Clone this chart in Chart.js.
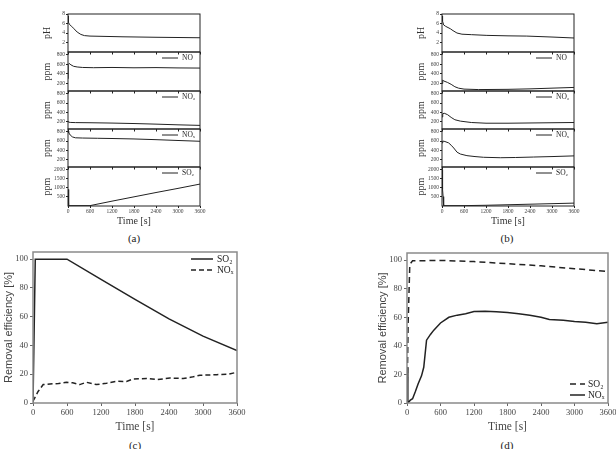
<!DOCTYPE html>
<html>
<head>
<meta charset="utf-8">
<script src="https://cdn.jsdelivr.net/npm/chart.js@4.4.0/dist/chart.umd.min.js"></script>
<style>
  body { margin: 0; background: #fff; width: 616px; height: 449px; position: relative; overflow: hidden; }
  canvas { position: absolute; }
  .tag { position: absolute; font: 11px "Liberation Serif", serif; color: #222; transform: translate(-50%, -50%); }
</style>
</head>
<body>
<div class="tag" style="left:134px;top:238px">(a)</div>
<div class="tag" style="left:507px;top:238px">(b)</div>
<div class="tag" style="left:135px;top:445px">(c)</div>
<div class="tag" style="left:507px;top:445px">(d)</div>
<script>
// tick labels
const timeTicks = [0, 600, 1200, 1800, 2400, 3000, 3600];
const pHTicks = [2, 4, 6, 8];
const ppmTicks = [200, 400, 600, 800];
const so2Ticks = [500, 1000, 1500, 2000];
const effTicks = [0, 20, 40, 60, 80, 100];

// (a) time series
const a_pH_t = [0, 10, 40, 100, 150, 250, 350, 450, 600, 900, 1500, 2400, 3000, 3600];
const a_pH = [7.6, 6.3, 5.8, 5.4, 5.0, 4.2, 3.7, 3.45, 3.35, 3.3, 3.2, 3.1, 3.05, 3.0];
const a_NO_t = [0, 5, 30, 80, 150, 250, 400, 700, 1200, 1800, 2400, 3000, 3600];
const a_NO = [300, 600, 620, 590, 560, 545, 535, 530, 535, 528, 532, 525, 522];
const a_NO2_t = [0, 10, 60, 200, 600, 1200, 1800, 2400, 3000, 3600];
const a_NO2 = [200, 190, 182, 178, 175, 168, 158, 145, 130, 118];
const a_NOx_t = [0, 20, 60, 120, 200, 400, 800, 1200, 1800, 2400, 3000, 3600];
const a_NOx = [810, 780, 730, 690, 670, 665, 660, 655, 645, 630, 612, 595];
const a_SO2_t = [0, 10, 25, 300, 600, 1200, 1800, 2400, 3000, 3600];
const a_SO2 = [900, 400, 0, 0, 0, 250, 490, 730, 960, 1200];

// (b) time series
const b_pH_t = [0, 15, 45, 100, 226, 300, 408, 544, 800, 1224, 1800, 2313, 3000, 3600];
const b_pH = [7.6, 6.5, 5.7, 5.4, 4.9, 4.5, 4.0, 3.75, 3.65, 3.5, 3.4, 3.35, 3.15, 2.95];
const b_NO_t = [0, 20, 50, 150, 250, 350, 450, 600, 1000, 1800, 2400, 3000, 3600];
const b_NO = [200, 270, 250, 220, 180, 130, 100, 80, 70, 75, 85, 100, 115];
const b_NO2_t = [0, 20, 60, 150, 250, 350, 500, 800, 1200, 1800, 2400, 3000, 3600];
const b_NO2 = [300, 370, 380, 350, 290, 240, 210, 180, 165, 165, 170, 175, 180];
const b_NOx_t = [0, 20, 80, 180, 250, 320, 410, 500, 680, 900, 1130, 1590, 2000, 2490, 3000, 3600];
const b_NOx = [560, 600, 590, 560, 510, 450, 360, 320, 285, 265, 250, 240, 245, 255, 265, 280];
const b_SO2_t = [0, 10, 20, 30, 45, 600, 1200, 1800, 2400, 3000, 3600];
const b_SO2 = [2000, 1500, 900, 500, 0, 0, 20, 50, 80, 110, 140];

// (c) removal efficiency
const c_SO2_t = [0, 40, 600, 1200, 1800, 2400, 3000, 3600];
const c_SO2 = [0, 100, 100, 86, 72, 58.5, 46.5, 36.5];
const c_NOx_t = [0, 50, 90, 180, 300, 450, 590, 700, 825, 943, 1120, 1300, 1474, 1650, 1767, 2004, 2200, 2416, 2651, 2800, 2946, 3240, 3450, 3600];
const c_NOx = [1.2, 5, 8, 12.8, 13.2, 13.6, 14.4, 14, 12.8, 14.4, 12.8, 13.8, 15.1, 15, 16.7, 17, 16.3, 17.4, 17, 18, 19.3, 19.7, 20, 21.4];

// (d) removal efficiency
const d_SO2_t = [0, 20, 50, 100, 600, 1200, 1800, 2400, 3000, 3600];
const d_SO2 = [0, 55, 97, 99.5, 99.8, 99, 97.5, 96, 94, 92];
const d_NOx_t = [0, 15, 60, 100, 150, 200, 260, 300, 350, 420, 480, 600, 750, 900, 1050, 1200, 1400, 1600, 1800, 2000, 2200, 2400, 2550, 2800, 3000, 3200, 3400, 3600];
const d_NOx = [25, 0, 2, 3, 8, 13.5, 19, 25, 44, 48, 51, 56, 60, 61.5, 62.5, 64, 64.3, 63.8, 63.3, 62.5, 61.5, 60, 58.5, 58, 57, 56.5, 55.5, 56.5];

Chart.defaults.font.family = '"Liberation Serif", serif';
Chart.defaults.color = '#333';
Chart.defaults.animation = false;

const zip = (t, v) => t.map((x, i) => ({ x: x, y: v[i] }));
const plain = v => String(v);

// box round the plot area, with optional small ticks along the top edge
const framePlugin = {
  id: 'frame',
  afterDatasetsDraw(chart, args, o) {
    const { ctx, chartArea: a } = chart;
    ctx.save();
    ctx.strokeStyle = o.color || '#222';
    ctx.lineWidth = o.width || 1;
    ctx.strokeRect(a.left, a.top, a.right - a.left, a.bottom - a.top);
    if (o.topTicks) {
      const x = chart.scales.x;
      ctx.lineWidth = 1;
      timeTicks.forEach(v => {
        const px = Math.round(x.getPixelForValue(v)) + 0.5;
        ctx.beginPath();
        ctx.moveTo(px, a.top);
        ctx.lineTo(px, a.top + 2.5);
        ctx.stroke();
      });
    }
    ctx.restore();
  }
};

// small legend drawn inside the plot area from the datasets
const keyPlugin = {
  id: 'key',
  afterDatasetsDraw(chart, args, o) {
    if (!o.show) return;
    const { ctx, chartArea: a } = chart;
    ctx.save();
    ctx.font = o.font;
    ctx.textBaseline = 'middle';
    ctx.fillStyle = '#222';
    chart.data.datasets.forEach((ds, i) => {
      const y = (o.fromBottom ? a.bottom - o.y : a.top + o.y) + i * o.dy;
      ctx.strokeStyle = ds.borderColor;
      ctx.lineWidth = ds.borderWidth;
      ctx.setLineDash(ds.borderDash || []);
      ctx.beginPath();
      ctx.moveTo(a.right - o.x0, y);
      ctx.lineTo(a.right - o.x1, y);
      ctx.stroke();
      ctx.fillText(ds.label, a.right - o.tx, y);
    });
    ctx.restore();
  }
};

Chart.register(framePlugin, keyPlugin);

function place(left, top, width, height) {
  const c = document.createElement('canvas');
  c.width = width;
  c.height = height;
  c.style.left = left + 'px';
  c.style.top = top + 'px';
  document.body.appendChild(c);
  return c;
}

function fixedTicks(list) {
  return s => { s.ticks = list.map(v => ({ value: v })); };
}

// one strip of the stacked panels (a) and (b)
function subplot(panelLeft, x0, x1, y0, y1, s) {
  const padT = 6;
  const padB = s.last ? 0 : 6;
  const axisH = s.last ? 21 : 0;
  const yW = x0 - panelLeft;
  const c = place(panelLeft, y0 - padT, (x1 - x0) + yW + 10, (y1 - y0) + padT + padB + axisH);
  const datasets = [{
    label: s.label,
    data: zip(s.t, s.v),
    borderColor: '#222',
    borderWidth: 1,
    pointRadius: 0,
    fill: false
  }];
  new Chart(c, {
    type: 'line',
    data: { datasets: datasets },
    options: {
      responsive: false,
      layout: { padding: { top: padT, right: 10, bottom: padB, left: 0 } },
      plugins: {
        legend: { display: false },
        tooltip: { enabled: false },
        frame: { color: '#222', width: 1, topTicks: s.label !== '' },
        key: { show: s.label !== '', font: '7.5px "Liberation Serif"', x0: 38, x1: 22, tx: 18, y: 6, dy: 0 }
      },
      scales: {
        x: {
          type: 'linear',
          min: 0,
          max: 3600,
          display: !!s.last,
          afterBuildTicks: fixedTicks(timeTicks),
          grid: { drawOnChartArea: false, tickLength: 2, color: '#222' },
          border: { display: false },
          ticks: { font: { size: 5.5 }, padding: 0, maxRotation: 0, autoSkip: false, color: '#444', callback: plain },
          title: { display: true, text: 'Time [s]', font: { size: 10 }, padding: 0, color: '#333' },
          afterFit: sc => { sc.height = axisH; }
        },
        y: {
          min: s.min,
          max: s.max,
          afterBuildTicks: fixedTicks(s.ticks),
          grid: { drawOnChartArea: false, tickLength: 2, color: '#222' },
          border: { display: false },
          ticks: { font: { size: 5.5 }, padding: 1, autoSkip: false, color: '#444', callback: plain },
          title: { display: true, text: s.title, font: { size: 10 }, padding: { top: 11, bottom: 0 }, color: '#333' },
          afterFit: sc => { sc.width = yW; }
        }
      }
    }
  });
}

const rows = [14, 52, 91, 129, 167, 206];

function stackPanel(panelLeft, x0, x1, series) {
  series.forEach((s, i) => subplot(panelLeft, x0, x1, rows[i], rows[i + 1], s));
}

stackPanel(30, 68, 200, [
  { label: '', title: 'pH', t: a_pH_t, v: a_pH, min: 0, max: 8, ticks: pHTicks },
  { label: 'NO', title: 'ppm', t: a_NO_t, v: a_NO, min: 40, max: 860, ticks: ppmTicks },
  { label: 'NO₂', title: 'ppm', t: a_NO2_t, v: a_NO2, min: 40, max: 860, ticks: ppmTicks },
  { label: 'NOₓ', title: 'ppm', t: a_NOx_t, v: a_NOx, min: 40, max: 860, ticks: ppmTicks },
  { label: 'SO₂', title: 'ppm', t: a_SO2_t, v: a_SO2, min: -20, max: 2150, ticks: so2Ticks, last: true }
]);

stackPanel(404, 442, 574, [
  { label: '', title: 'pH', t: b_pH_t, v: b_pH, min: 0, max: 8, ticks: pHTicks },
  { label: 'NO', title: 'ppm', t: b_NO_t, v: b_NO, min: 40, max: 860, ticks: ppmTicks },
  { label: 'NO₂', title: 'ppm', t: b_NO2_t, v: b_NO2, min: 40, max: 860, ticks: ppmTicks },
  { label: 'NOₓ', title: 'ppm', t: b_NOx_t, v: b_NOx, min: 40, max: 860, ticks: ppmTicks },
  { label: 'SO₂', title: 'ppm', t: b_SO2_t, v: b_SO2, min: -20, max: 2150, ticks: so2Ticks, last: true }
]);

// panels (c) and (d)
function effPanel(left, top, yW, plotW, plotH, datasets, key) {
  const padT = 8, axisH = 31, padR = 16;
  const c = place(left, top, yW + plotW + padR, padT + plotH + axisH);
  new Chart(c, {
    type: 'line',
    data: { datasets: datasets },
    options: {
      responsive: false,
      layout: { padding: { top: padT, right: padR, bottom: 0, left: 0 } },
      plugins: {
        legend: { display: false },
        tooltip: { enabled: false },
        frame: { color: '#8a8a8a', width: 1.5, topTicks: false },
        key: key
      },
      scales: {
        x: {
          type: 'linear',
          min: 0,
          max: 3600,
          afterBuildTicks: fixedTicks(timeTicks),
          grid: { drawOnChartArea: false, tickLength: 3, color: '#666' },
          border: { display: false },
          ticks: { font: { size: 8.5 }, padding: 2, maxRotation: 0, autoSkip: false, color: '#444', callback: plain },
          title: { display: true, text: 'Time [s]', font: { size: 11.5 }, padding: 0, color: '#444' },
          afterFit: sc => { sc.height = axisH; }
        },
        y: {
          min: 0,
          max: 105,
          afterBuildTicks: fixedTicks(effTicks),
          grid: { drawOnChartArea: false, tickLength: 3, color: '#666' },
          border: { display: false },
          ticks: { font: { size: 8.5 }, padding: 2, autoSkip: false, color: '#444', callback: plain },
          title: {
            display: true, text: 'Removal efficiency [%]',
            font: { size: 11, family: '"Liberation Sans", sans-serif' },
            padding: { top: 2.5, bottom: 0 }, color: '#444'
          },
          afterFit: sc => { sc.width = yW; }
        }
      }
    }
  });
}

effPanel(0, 244, 33, 204, 151, [
  { label: 'SO₂', data: zip(c_SO2_t, c_SO2), borderColor: '#222', borderWidth: 1.5, pointRadius: 0 },
  { label: 'NOₓ', data: zip(c_NOx_t, c_NOx), borderColor: '#222', borderWidth: 1.5, borderDash: [5, 3], pointRadius: 0 }
], { show: true, font: '9.5px "Liberation Serif"', x0: 46, x1: 24, tx: 20, y: 7, dy: 11, fromBottom: false });

effPanel(374, 245, 33, 201, 150, [
  { label: 'SO₂', data: zip(d_SO2_t, d_SO2), borderColor: '#222', borderWidth: 1.5, borderDash: [6, 4], pointRadius: 0 },
  { label: 'NOₓ', data: zip(d_NOx_t, d_NOx), borderColor: '#222', borderWidth: 1.5, pointRadius: 0 }
], { show: true, font: '9.5px "Liberation Serif"', x0: 38, x1: 23, tx: 20, y: 19, dy: 11, fromBottom: true });
</script>
</body>
</html>
